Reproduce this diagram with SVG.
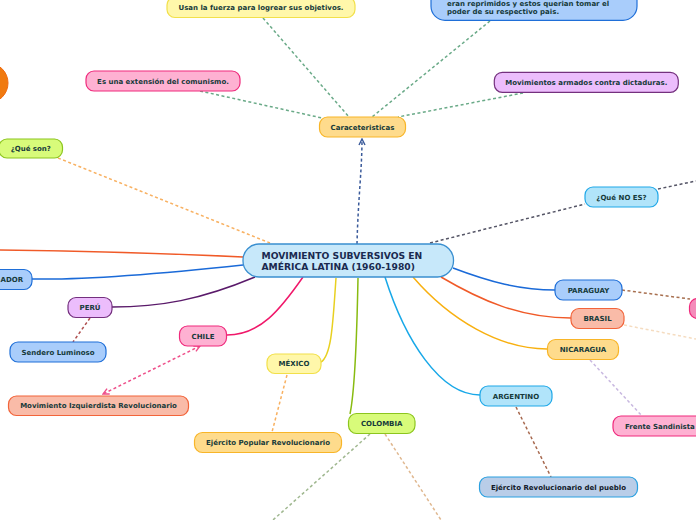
<svg xmlns="http://www.w3.org/2000/svg" width="696" height="520" viewBox="0 0 696 520">
<style>
text{font-family:"DejaVu Sans","Verdana",sans-serif;font-weight:bold;font-size:7px;fill:#163a3a}
.c{text-anchor:middle}
.n{stroke-width:1.2}
.yel{fill:#fff7aa;stroke:#f2e04a}
.org{fill:#fedb8c;stroke:#f8b528}
.pnk{fill:#feb1d2;stroke:#ef2a7c}
.blu{fill:#a9cdfb;stroke:#1f6fd8}
.pur{fill:#ecbdfc;stroke:#74307e}
.grn{fill:#d8fb7a;stroke:#8cc51e}
.cyn{fill:#b1e4fa;stroke:#1fa8e8}
.sal{fill:#f9bba8;stroke:#f2643a}
.con path{fill:none;stroke-width:1.5}
.d{stroke-dasharray:3 2.5}
</style>
<defs>
<marker id="ap" viewBox="0 0 8 8" refX="7" refY="4" markerWidth="8" markerHeight="8" markerUnits="userSpaceOnUse" orient="auto-start-reverse"><path d="M1,1 L7,4 L1,7" fill="none" stroke="#ee4f8a" stroke-width="1.4"/></marker>
<marker id="an" viewBox="0 0 8 8" refX="7" refY="4" markerWidth="8" markerHeight="8" markerUnits="userSpaceOnUse" orient="auto"><path d="M1,1 L7,4 L1,7" fill="none" stroke="#3a5a9a" stroke-width="1.4"/></marker>
</defs>
<g id="connectors" class="con">
<path class="d" d="M263,18 L349,117" stroke="#6aaa88"/>
<path class="d" d="M200,91 L322,118" stroke="#6aaa88"/>
<path class="d" d="M490,21 L372,117" stroke="#6aaa88"/>
<path class="d" d="M523,93 L398,117" stroke="#6aaa88"/>
<path class="d" d="M357,244 C358,200 362,170 362,139" stroke="#3a5a9a" marker-end="url(#an)"/>
<path class="d" d="M58,158 L270,243" stroke="#f8b060"/>
<path class="d" d="M430,243 L585,204" stroke="#555566"/>
<path class="d" d="M658,189 L696,181" stroke="#555566"/>
<path d="M243,257 C160,253 80,251 0,250" stroke="#f05a28"/>
<path d="M243,265 C150,275 80,280 32,279" stroke="#1a6ad8"/>
<path d="M255,277 C200,300 160,307 112,307" stroke="#5a1a6a"/>
<path d="M303,277 C280,310 260,335 227,335" stroke="#f0186a"/>
<path d="M336,278 C333,320 332,355 321,362" stroke="#e8d020"/>
<path d="M358,278 C357,330 355,390 350,414" stroke="#88bb10"/>
<path d="M385,277 C405,340 440,395 480,395" stroke="#18a8e8"/>
<path d="M413,277 C450,320 500,349 547,349" stroke="#f8b010"/>
<path d="M441,277 C480,300 520,318 571,318" stroke="#f05a28"/>
<path d="M453,268 C490,282 520,290 555,290" stroke="#1a6ad8"/>
<path class="d" d="M90,318 L73,342" stroke="#b05050"/>
<path class="d" d="M200,346 L103,394" stroke="#ee4f8a" marker-start="url(#ap)" marker-end="url(#ap)"/>
<path class="d" d="M287,375 L272,432" stroke="#f8b060"/>
<path class="d" d="M370,434 L273,520" stroke="#a0b890"/>
<path class="d" d="M385,434 L441,520" stroke="#e0b890"/>
<path class="d" d="M516,407 L551,477" stroke="#a86a50"/>
<path class="d" d="M590,360 L642,416" stroke="#c8b8e0"/>
<path class="d" d="M622,290 L690,299" stroke="#a87050"/>
<path class="d" d="M624,325 L696,339" stroke="#f5dcc0"/>
</g>
<g id="orange-circle"><circle cx="-12" cy="83" r="20" fill="#f07a10" stroke="#f06a10"/></g>
<g id="usan"><rect class="n yel" x="167" y="-3" width="188" height="20.5" rx="8"/><text class="c" x="261" y="9.5">Usan la fuerza para logrear sus objetivos.</text></g>
<g id="extension"><rect class="n pnk" x="86" y="71" width="154" height="20" rx="8"/><text class="c" x="163" y="83.6">Es una extensión del comunismo.</text></g>
<g id="reprimidos"><rect class="n blu" x="431" y="-20" width="206" height="40.3" rx="14"/><text x="447" y="5.6">eran reprimidos y estos querian tomar el</text><text x="447" y="13.6">poder de su respectivo pais.</text></g>
<g id="armados"><rect class="n pur" x="494.3" y="72.3" width="184" height="20" rx="8"/><text class="c" x="586.3" y="84.9">Movimientos armados contra dictaduras.</text></g>
<g id="caracteristicas"><rect class="n org" x="319.5" y="117" width="86" height="20" rx="8"/><text class="c" x="362.5" y="129.6">Caraceteristicas</text></g>
<g id="queson"><rect class="n grn" x="-1" y="139" width="63.5" height="19" rx="8"/><text class="c" x="30.8" y="151">¿Qué son?</text></g>
<g id="quenoes"><rect class="n cyn" x="585" y="187" width="73" height="20" rx="8"/><text class="c" x="621.5" y="199.6">¿Qué NO ES?</text></g>
<g id="ecuador"><rect class="n blu" x="-40" y="269.5" width="72" height="20" rx="8"/><text x="0.5" y="282.1">ADOR</text></g>
<g id="peru"><rect class="n pur" x="68" y="297.5" width="44" height="20" rx="8"/><text class="c" x="90" y="310.1">PERÚ</text></g>
<g id="sendero"><rect class="n blu" x="10" y="342" width="96" height="20" rx="8"/><text class="c" x="58" y="354.6">Sendero Luminoso</text></g>
<g id="chile"><rect class="n pnk" x="179.5" y="326" width="47" height="20" rx="8"/><text class="c" x="203" y="338.6">CHILE</text></g>
<g id="mir"><rect class="n sal" x="8.5" y="396" width="180" height="19.5" rx="8"/><text class="c" x="98.5" y="408.4">Movimiento Izquierdista Revolucionario</text></g>
<g id="mexico"><rect class="n yel" x="267" y="354" width="54" height="19.5" rx="8"/><text class="c" x="294" y="366.4">MÉXICO</text></g>
<g id="epr"><rect class="n org" x="194.5" y="432.5" width="147" height="20" rx="8"/><text class="c" x="268" y="445.1">Ejército Popular Revolucionario</text></g>
<g id="colombia"><rect class="n grn" x="348.5" y="413.5" width="66.5" height="20" rx="8"/><text class="c" x="381.7" y="426.1">COLOMBIA</text></g>
<g id="argentino"><rect class="n cyn" x="480" y="386" width="72" height="20" rx="8"/><text class="c" x="516" y="398.6">ARGENTINO</text></g>
<g id="erp"><rect class="n" x="479.5" y="477" width="158" height="20" rx="8" fill="#b9cde8" stroke="#2aa0e0"/><text class="c" x="558.5" y="489.6" style="fill:#101828">Ejército Revolucionario del pueblo</text></g>
<g id="sandinista"><rect class="n pnk" x="613" y="416" width="100" height="20" rx="8"/><text x="625" y="428.6">Frente Sandinista</text></g>
<g id="nicaragua"><rect class="n org" x="547.5" y="339.5" width="71" height="20" rx="8"/><text class="c" x="583" y="352.1">NICARAGUA</text></g>
<g id="brasil"><rect class="n sal" x="571" y="308.5" width="53" height="20" rx="8"/><text class="c" x="597.5" y="321.1">BRASIL</text></g>
<g id="paraguay"><rect class="n blu" x="555" y="280" width="67" height="20" rx="8"/><text class="c" x="588.5" y="292.6">PARAGUAY</text></g>
<g id="right-pink"><rect class="n" x="689.5" y="298.5" width="40" height="20" rx="8" fill="#f48cba" stroke="#ef2a7c"/></g>
<g id="central"><rect x="243" y="244" width="210.5" height="33" rx="16" fill="#c7e8fa" stroke="#3a8fd0" stroke-width="1.3"/><text x="261.5" y="259.2" style="font-size:9.2px;fill:#1a2a50">MOVIMIENTO SUBVERSIVOS EN</text><text x="261.5" y="270" style="font-size:9.2px;fill:#1a2a50">AMÉRICA LATINA (1960-1980)</text></g>
</svg>
